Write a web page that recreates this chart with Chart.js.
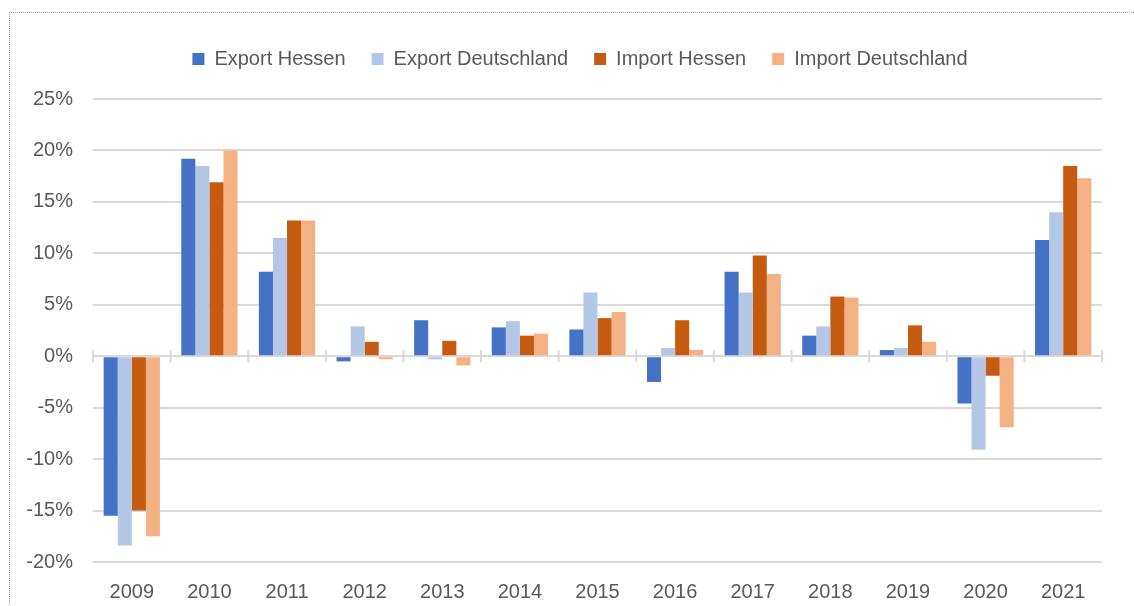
<!DOCTYPE html>
<html>
<head>
<meta charset="utf-8">
<script src="https://cdn.jsdelivr.net/npm/chart.js@4"></script>
<style>
  html, body { margin: 0; padding: 0; background: #fff; }
  #frame {
    position: absolute; left: 9px; top: 12px; width: 1200px; height: 700px;
    border-left: 1px dotted #9a9a9a; border-top: 1px dotted #9a9a9a;
  }
  #wrap { position: absolute; left: 0; top: 0; width: 1134px; height: 606px; }
</style>
</head>
<body>
<div id="frame"></div>
<div id="wrap"><canvas id="chart"></canvas></div>
<script>
const years = ['2009', '2010', '2011', '2012', '2013', '2014', '2015', '2016', '2017', '2018', '2019', '2020', '2021'];
const exportHessen = [-15.5, 19.2, 8.2, -0.5, 3.5, 2.8, 2.6, -2.5, 8.2, 2.0, 0.6, -4.6, 11.3];
const exportDeutschland = [-18.4, 18.5, 11.5, 2.9, -0.3, 3.4, 6.2, 0.8, 6.2, 2.9, 0.8, -9.1, 14.0];
const importHessen = [-15.0, 16.9, 13.2, 1.4, 1.5, 2.0, 3.7, 3.5, 9.8, 5.8, 3.0, -1.9, 18.5];
const importDeutschland = [-17.5, 20.0, 13.2, -0.3, -0.9, 2.2, 4.3, 0.6, 8.0, 5.7, 1.4, -6.9, 17.3];
const yTicks = [-20, -15, -10, -5, 0, 5, 10, 15, 20, 25];

const textColor = '#595959';
const gridColor = '#D9D9D9';
const fontFamily = '"Liberation Sans", Arial, sans-serif';

// small tick marks on the zero line between the year groups
const zeroTicks = {
  id: 'zeroTicks',
  beforeDatasetsDraw(chart) {
    const x = chart.scales.x, y = chart.scales.y;
    const y0 = y.getPixelForValue(0);
    const step = x.width / years.length;
    const c = chart.ctx;
    c.save();
    c.strokeStyle = gridColor;
    c.lineWidth = 2;
    c.beginPath();
    for (let i = 0; i <= years.length; i++) {
      const px = x.left + i * step;
      c.moveTo(px, y0 - 6);
      c.lineTo(px, y0 + 6);
    }
    c.stroke();
    c.restore();
  }
};

// extra room under the legend, and centre it like the original
const legendSpace = {
  id: 'legendSpace',
  beforeInit(chart) {
    const fit = chart.legend.fit;
    chart.legend.fit = function () {
      fit.bind(chart.legend)();
      this.height += 20;
    };
  },
  afterLayout(chart) {
    chart.legend.left += 16;
    chart.legend.right += 16;
  }
};

const ctx = document.getElementById('chart').getContext('2d');
new Chart(ctx, {
  type: 'bar',
  data: {
    labels: years,
    datasets: [
      { label: 'Export Hessen', data: exportHessen, backgroundColor: '#4472C4' },
      { label: 'Export Deutschland', data: exportDeutschland, backgroundColor: '#B4C7E7' },
      { label: 'Import Hessen', data: importHessen, backgroundColor: '#C55A11' },
      { label: 'Import Deutschland', data: importDeutschland, backgroundColor: '#F4B183' }
    ]
  },
  options: {
    responsive: true,
    maintainAspectRatio: false,
    animation: false,
    datasets: {
      bar: { categoryPercentage: 0.725, barPercentage: 1.0, borderWidth: 0 }
    },
    layout: { padding: { left: 26, right: 32, top: 23, bottom: 0 } },
    plugins: {
      tooltip: { enabled: false },
      legend: {
        position: 'top',
        labels: {
          color: textColor,
          font: { family: fontFamily, size: 20 },
          boxWidth: 12,
          boxHeight: 12,
          padding: 26
        }
      }
    },
    scales: {
      x: {
        afterFit(scale) { scale.height = 44; },
        grid: { display: false, drawTicks: false },
        border: { display: false },
        ticks: { color: textColor, font: { family: fontFamily, size: 20 }, padding: 18, maxRotation: 0 }
      },
      y: {
        min: -20,
        max: 25,
        afterBuildTicks(scale) { scale.ticks = yTicks.map(v => ({ value: v })); },
        afterFit(scale) { scale.width = 67; },
        grid: { color: gridColor, lineWidth: 2, drawTicks: false },
        border: { display: false },
        ticks: {
          color: textColor,
          font: { family: fontFamily, size: 20 },
          padding: 20,
          callback: v => v + '%'
        }
      }
    }
  },
  plugins: [zeroTicks, legendSpace]
});
</script>
</body>
</html>
